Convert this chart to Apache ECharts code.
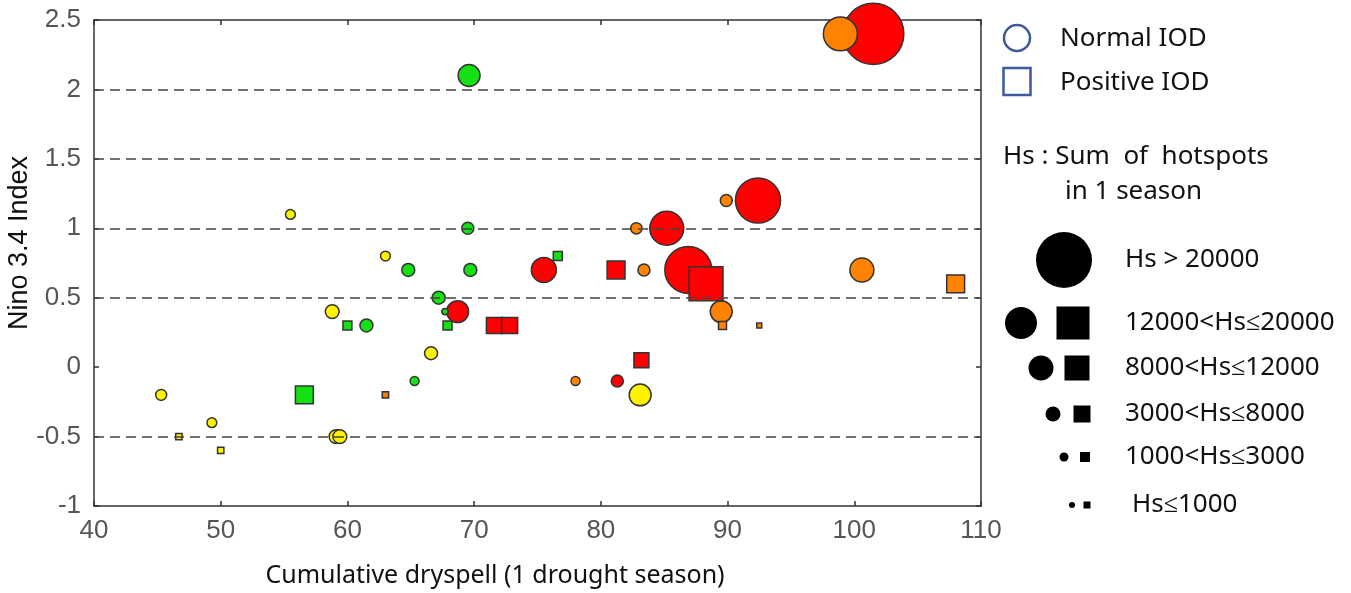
<!DOCTYPE html>
<html>
<head>
<meta charset="utf-8">
<script src="https://cdn.jsdelivr.net/npm/echarts@6/dist/echarts.min.js"></script>
<style>
  html, body { margin: 0; padding: 0; background: #fff; }
  #chart { width: 1351px; height: 593px; }
</style>
</head>
<body>
<div id="chart"></div>
<script>
// [cumulative dryspell, Nino 3.4, Hs (sum of hotspots, estimated)]
const redCircles = [
  [101.5, 2.4, 23300], [86.9, 0.7, 13800], [92.4, 1.2, 12700], [85.2, 1.0, 7200],
  [75.5, 0.7, 3900], [68.7, 0.4, 3000], [81.3, -0.1, 900]
]
const orangeCircles = [
  [98.9, 2.4, 7200], [100.6, 0.7, 3600], [89.5, 0.4, 3000], [82.8, 1.0, 800],
  [83.4, 0.7, 900], [89.9, 1.2, 900], [78.0, -0.1, 500], [88.3, 0.7, 150]
]
const yellowCircles = [
  [83.1, -0.2, 3000], [58.8, 0.4, 1200], [59.1, -0.5, 1200], [59.4, -0.5, 1200],
  [66.6, 0.1, 1050], [45.3, -0.2, 750], [55.5, 1.1, 600], [63.0, 0.8, 600], [49.3, -0.4, 600]
]
const greenCircles = [
  [69.6, 2.1, 3000], [64.8, 0.7, 1050], [69.7, 0.7, 1050], [67.2, 0.5, 1050],
  [61.5, 0.3, 1050], [69.5, 1.0, 900], [65.3, -0.1, 500], [67.7, 0.4, 250]
]
const redSquares = [
  [88.3, 0.6, 7200], [81.2, 0.7, 2000], [71.6, 0.3, 1600], [72.8, 0.3, 1600], [83.2, 0.05, 1400]
]
const orangeSquares = [
  [108.0, 0.6, 2000], [89.6, 0.3, 400], [63.0, -0.2, 250], [92.5, 0.3, 150]
]
const yellowSquares = [[46.7, -0.5, 250], [50.0, -0.6, 250]]
const greenSquares = [
  [56.6, -0.2, 2000], [76.6, 0.8, 500], [60.0, 0.3, 500], [67.9, 0.3, 500]
]
const refLines = [2, 1.5, 1, 0.5, -0.5]
const xTicks = { min: 40, max: 110, step: 10 }
const yTicks = { min: -1, max: 2.5, step: 0.5 }
const sizeClasses = ['Hs > 20000', '12000<Hs≤20000', '8000<Hs≤12000', '3000<Hs≤8000', '1000<Hs≤3000', 'Hs≤1000']

const C = { red: '#ff0000', orange: '#ff8200', yellow: '#fff200', green: '#14e014' }
const hsSize = v => Math.sqrt(v[2]) * 0.4

const chart = echarts.init(document.getElementById('chart'))

let pts = (data, color, shape, z) => ({
  type: 'scatter',
  data,
  symbol: shape,
  symbolSize: hsSize,
  z,
  itemStyle: { color, borderColor: '#333', borderWidth: 1.5, opacity: 1 },
  emphasis: { disabled: true }
})

const tickFont = { fontFamily: 'Liberation Sans, Arial', fontSize: 26, color: '#555' }
const axisLine = { show: true, onZero: false, lineStyle: { color: '#333', width: 1.5 } }
const tickIn = { show: true, inside: true, length: 5, lineStyle: { color: '#333', width: 1.5 } }

// legend pieces (drawn, not data)
const blue = '#3e5a9a'
const legendText = (text, x, y) => ({
  type: 'text', x, y,
  style: { text, fill: '#111', font: '26px "Noto Sans"', textVerticalAlign: 'middle' }
})
const dot = (cx, cy, r) => ({ type: 'circle', shape: { cx, cy, r }, style: { fill: '#000' } })
const sq = (cx, cy, s) => ({ type: 'rect', shape: { x: cx - s / 2, y: cy - s / 2, width: s, height: s }, style: { fill: '#000' } })
const rows = [260, 323, 368, 414, 457, 505]

chart.setOption({
  animation: false,
  grid: { left: 94, right: 370, top: 20, bottom: 87 },
  xAxis: [
    { type: 'value', min: xTicks.min, max: xTicks.max, interval: xTicks.step, position: 'bottom',
      axisLine, axisTick: tickIn, splitLine: { show: false },
      axisLabel: Object.assign({ margin: 12 }, tickFont) },
    { type: 'value', min: xTicks.min, max: xTicks.max, interval: xTicks.step, position: 'top',
      axisLine, axisTick: tickIn, splitLine: { show: false }, axisLabel: { show: false } }
  ],
  yAxis: [
    { type: 'value', min: yTicks.min, max: yTicks.max, interval: yTicks.step, position: 'left',
      axisLine, axisTick: tickIn, splitLine: { show: false },
      axisLabel: Object.assign({ margin: 13 }, tickFont) },
    { type: 'value', min: yTicks.min, max: yTicks.max, interval: yTicks.step, position: 'right',
      axisLine, axisTick: tickIn, splitLine: { show: false }, axisLabel: { show: false } }
  ],
  series: [
    pts(redCircles, C.red, 'circle', 2),
    pts(orangeCircles, C.orange, 'circle', 2),
    pts(yellowCircles, C.yellow, 'circle', 2),
    pts(greenCircles, C.green, 'circle', 2),
    {
      type: 'scatter', data: [], z: 3, silent: true,
      markLine: {
        silent: true, symbol: ['none', 'none'], label: { show: false },
        lineStyle: { type: [10, 6], color: '#444', width: 1.5 },
        data: refLines.map(v => ({ yAxis: v }))
      }
    },
    pts(redSquares, C.red, 'rect', 4),
    pts(orangeSquares, C.orange, 'rect', 4),
    pts(yellowSquares, C.yellow, 'rect', 4),
    pts(greenSquares, C.green, 'rect', 4)
  ],
  graphic: [
    { type: 'text', x: 20, y: 243, rotation: Math.PI / 2,
      style: { text: 'Nino 3.4 Index', fill: '#111', font: '27px "Liberation Sans", Arial',
               textAlign: 'center', textVerticalAlign: 'middle' } },
    { type: 'text', x: 495, y: 576,
      style: { text: 'Cumulative dryspell (1 drought season)', fill: '#111', font: '25px "Noto Sans"',
               textAlign: 'center', textVerticalAlign: 'middle' } },

    { type: 'circle', shape: { cx: 1017, cy: 38, r: 13 }, style: { fill: 'none', stroke: blue, lineWidth: 2.5 } },
    { type: 'rect', shape: { x: 1003.5, y: 68, width: 27, height: 27 }, style: { fill: 'none', stroke: blue, lineWidth: 2.5 } },
    legendText('Normal IOD', 1060, 39),
    legendText('Positive IOD', 1060, 83),
    legendText('Hs : Sum  of  hotspots', 1003, 157),
    legendText('in 1 season', 1065, 192),

    dot(1064, rows[0], 28),
    dot(1021, rows[1], 16), sq(1073, rows[1], 33),
    dot(1041, rows[2], 12.5), sq(1077, rows[2], 25),
    dot(1053, rows[3], 7.5), sq(1082, rows[3], 17),
    dot(1064, rows[4], 4.5), sq(1085, rows[4], 10),
    dot(1072, rows[5], 3), sq(1087, rows[5], 7),
    ...sizeClasses.map((t, i) => legendText(t, i === 5 ? 1132 : 1125, rows[i]))
  ]
})
</script>
</body>
</html>
